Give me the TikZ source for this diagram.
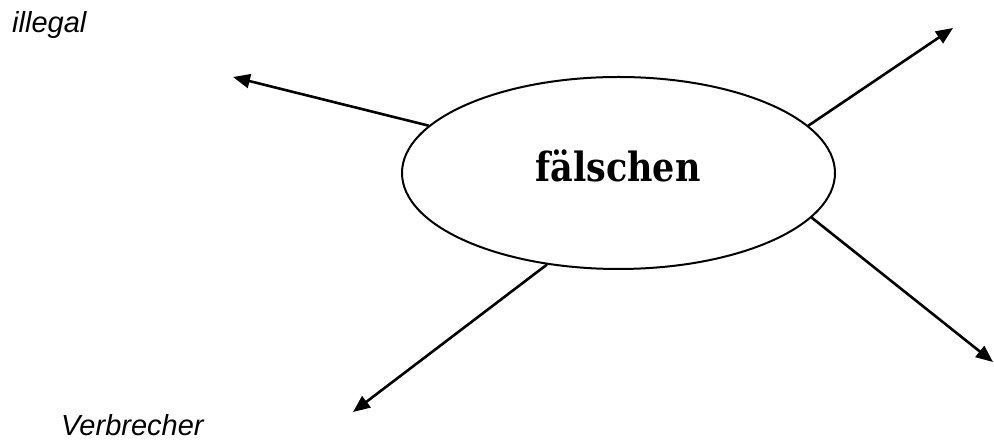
\documentclass[tikz,border=0pt]{standalone}
\usepackage{fontspec}
\setmainfont{Liberation Sans}
\newfontfamily\headfont{DejaVu Serif}
\usetikzlibrary{shapes.geometric,arrows.meta}
\begin{document}
\begin{tikzpicture}[x=1pt,y=1pt,
  conn/.style={line width=2.6pt,-{Triangle[length=17pt,width=14pt]}},
  lbl/.style={inner sep=0pt,font=\fontsize{29}{32}\selectfont\itshape}]
\useasboundingbox (0,0) rectangle (994,441);
\node[ellipse,draw,line width=2pt,minimum width=433pt,minimum height=192pt,inner sep=0pt] (e) at (618.5,268) {};
\node[anchor=base,inner sep=0pt,font=\headfont\bfseries\fontsize{35}{40}\selectfont] (t) at (618,259) {\scalebox{1}[1.15]{fälschen}};
\node[lbl,anchor=base west] (ill) at (12,408) {illegal};
\node[lbl,anchor=base west] (ver) at (61,5) {Verbrecher};
\coordinate (a1) at (233,364);
\coordinate (a2) at (953,413);
\coordinate (a3) at (353,29);
\coordinate (a4) at (993,79);
\draw[conn] (e.166) -- (a1);
\draw[conn] (e.14.4) -- (a2);
\draw[conn] (e.232.3) -- (a3);
\draw[conn] (e.-13.9) -- (a4);
\end{tikzpicture}
\end{document}
